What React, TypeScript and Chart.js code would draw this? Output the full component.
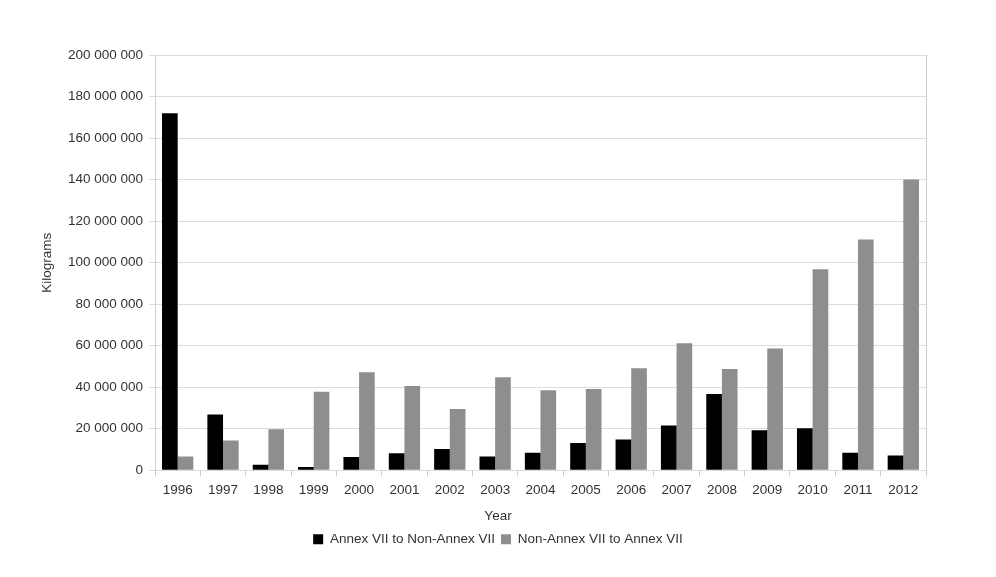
import React, { useEffect, useRef } from "react";
import { Chart, registerables } from "chart.js";

Chart.register(...registerables);

const years = ["1996","1997","1998","1999","2000","2001","2002","2003","2004","2005","2006","2007","2008","2009","2010","2011","2012"];
const annexToNon = [172000000, 26900000, 2700000, 1600000, 6400000, 8200000, 10300000, 6600000, 8500000, 13200000, 14800000, 21600000, 36700000, 19300000, 20300000, 8500000, 7100000];
const nonToAnnex = [6600000, 14300000, 19800000, 37800000, 47200000, 40600000, 29500000, 44800000, 38500000, 39100000, 49100000, 61200000, 48800000, 58600000, 96800000, 111100000, 140000000];
const seriesNames = ["Annex VII to Non-Annex VII", "Non-Annex VII to Annex VII"];
const xTitle = "Year";
const yTitle = "Kilograms";
const yMax = 200000000;
const yStep = 20000000;

const FONT = "'Liberation Sans', Arial, sans-serif";
const FS = 13.5;
const TEXT = "#333333";

export default function App() {
  const ref = useRef<HTMLCanvasElement>(null);
  useEffect(() => {
    if (!ref.current) return;
    const chart = new Chart(ref.current, {
      type: "bar",
      data: {
        labels: years,
        datasets: [
          { label: seriesNames[0], data: annexToNon, backgroundColor: "#000000", borderWidth: 0 },
          { label: seriesNames[1], data: nonToAnnex, backgroundColor: "#8e8e8e", borderWidth: 0 },
        ],
      },
      options: {
        animation: false,
        responsive: true,
        maintainAspectRatio: false,
        layout: { padding: { left: 36, top: 55, right: 36, bottom: 21 } },
        datasets: { bar: { categoryPercentage: 0.69, barPercentage: 1.0 } },
        plugins: {
          tooltip: { enabled: false },
          title: {
            display: true,
            text: xTitle,
            position: "bottom",
            weight: 500,
            color: TEXT,
            font: { family: FONT, size: FS, weight: "normal" },
            padding: { top: 2, bottom: 2 },
          } as any,
          legend: {
            position: "bottom",
            weight: 1000,
            labels: {
              boxWidth: 10,
              boxHeight: 10,
              padding: 6,
              color: TEXT,
              font: { family: FONT, size: FS },
            },
          } as any,
        },
        scales: {
          x: {
            grid: { drawOnChartArea: false, drawTicks: true, tickLength: 6, color: "#cccccc", offset: true },
            border: { display: false },
            ticks: { color: TEXT, font: { family: FONT, size: FS }, padding: 6, maxRotation: 0, autoSkip: false },
            afterFit: (s: any) => { s.height = 36; },
          },
          y: {
            min: 0,
            max: yMax,
            grid: { color: "#dcdcdc", tickLength: 6 },
            border: { display: true, color: "#cfcfcf" },
            ticks: {
              stepSize: yStep,
              padding: 6,
              color: TEXT,
              font: { family: FONT, size: FS },
              callback: (v: any) => String(v).replace(/\B(?=(\d{3})+(?!\d))/g, " "),
            },
            title: { display: true, text: yTitle, color: TEXT, font: { family: FONT, size: FS }, padding: { top: 3, bottom: 3 } },
            afterFit: (s: any) => { s.width = 119; },
          },
          y2: {
            position: "right",
            min: 0,
            max: yMax,
            grid: { drawOnChartArea: false, drawTicks: false },
            border: { display: true, color: "#cfcfcf" },
            ticks: { display: false },
            afterFit: (s: any) => { s.width = 34; },
          },
        },
      },
    });
    return () => chart.destroy();
  }, []);
  return (
    <div style={{ position: "fixed", left: 0, top: 0, width: 996, height: 577, background: "#fff" }}>
      <canvas ref={ref} />
    </div>
  );
}
